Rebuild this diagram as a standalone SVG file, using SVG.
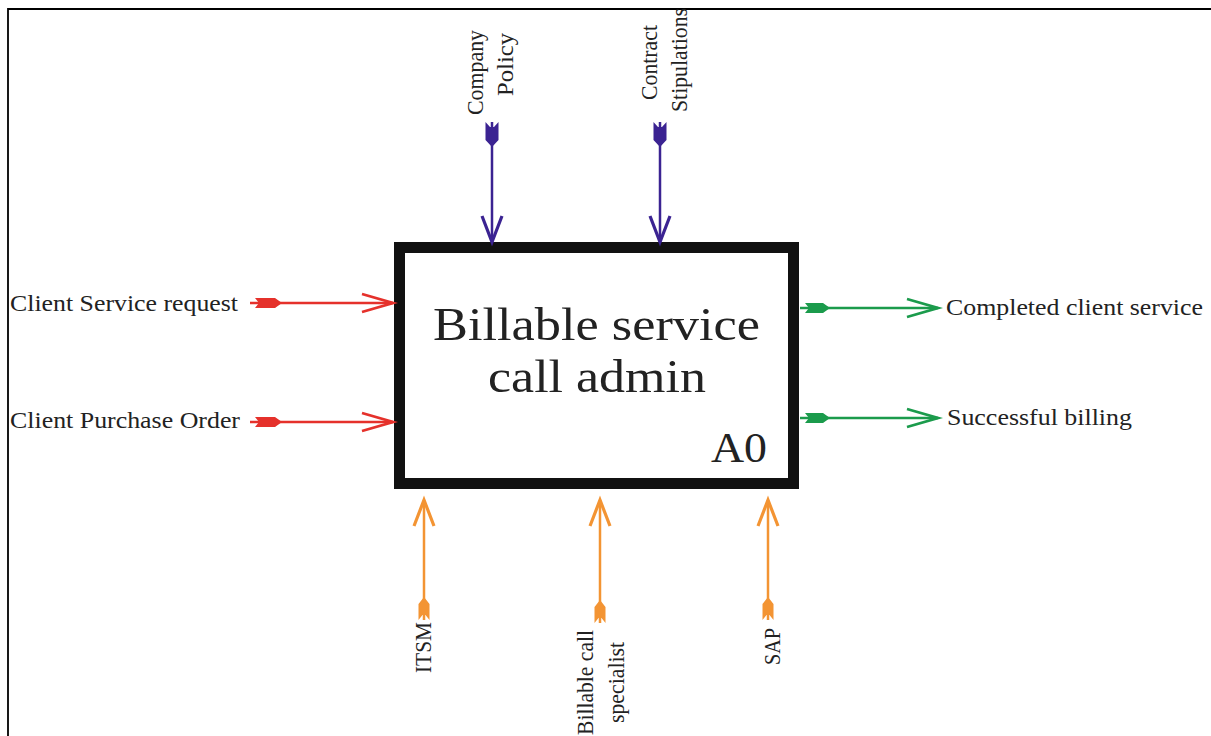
<svg xmlns="http://www.w3.org/2000/svg" width="1211" height="736" viewBox="0 0 1211 736">
<style>
  text { font-family: "Liberation Serif", serif; fill: #222; }
  .lbl { font-size: 23px; }
  .red { stroke: #e5312b; }
  .grn { stroke: #1b9b4c; }
  .pur { stroke: #3b2392; }
  .org { stroke: #f39433; }
  .conn path { fill: none; stroke-width: 2.5; }
</style>
<defs>
  <marker id="hRed" markerUnits="userSpaceOnUse" orient="auto" refX="0" refY="0" markerWidth="40" markerHeight="30" overflow="visible"><path d="M-31,-9 L0,0 L-31,9" fill="none" stroke="#e5312b" stroke-width="2.8"/></marker>
  <marker id="hGrn" markerUnits="userSpaceOnUse" orient="auto" refX="0" refY="0" markerWidth="40" markerHeight="30" overflow="visible"><path d="M-31,-9 L0,0 L-31,9" fill="none" stroke="#1b9b4c" stroke-width="2.8"/></marker>
  <marker id="hPur" markerUnits="userSpaceOnUse" orient="auto" refX="0" refY="0" markerWidth="40" markerHeight="30" overflow="visible"><path d="M-26,-10 L0,0 L-26,10" fill="none" stroke="#3b2392" stroke-width="3.2"/></marker>
  <marker id="hOrg" markerUnits="userSpaceOnUse" orient="auto" refX="0" refY="0" markerWidth="40" markerHeight="30" overflow="visible"><path d="M-26,-10 L0,0 L-26,10" fill="none" stroke="#f39433" stroke-width="3.2"/></marker>
  <marker id="tRed" markerUnits="userSpaceOnUse" orient="auto" refX="0" refY="0" markerWidth="40" markerHeight="30" overflow="visible"><path d="M5,-5 L25,-5 L32,0 L25,5 L5,5 L9,0 Z" fill="#e5312b"/></marker>
  <marker id="tGrn" markerUnits="userSpaceOnUse" orient="auto" refX="0" refY="0" markerWidth="40" markerHeight="30" overflow="visible"><path d="M5,-5 L23,-5 L30,0 L23,5 L5,5 L9,0 Z" fill="#1b9b4c"/></marker>
  <marker id="tPur" markerUnits="userSpaceOnUse" orient="auto" refX="0" refY="0" markerWidth="40" markerHeight="30" overflow="visible"><path d="M0,-6.5 L18,-6.5 L25,0 L18,6.5 L0,6.5 L5,2 L5,-2 Z" fill="#3b2392"/></marker>
  <marker id="tOrg" markerUnits="userSpaceOnUse" orient="auto" refX="0" refY="0" markerWidth="40" markerHeight="30" overflow="visible"><path d="M0,-5.5 L16,-5.5 L23,0 L16,5.5 L0,5.5 L5,1.5 L5,-1.5 Z" fill="#f39433"/></marker>
</defs>
<rect width="1211" height="736" fill="#fff"/>
<g id="frame">
  <path d="M8,736 L8,9 L1211,9" fill="none" stroke="#000" stroke-width="1.8"/>
</g>
<g id="A0">
  <rect x="399.5" y="247.5" width="394" height="236" fill="#fff" stroke="#111" stroke-width="11"/>
  <text font-family="Liberation Serif, serif" x="433" y="340" font-size="46" textLength="327" lengthAdjust="spacingAndGlyphs">Billable service</text>
  <text font-family="Liberation Serif, serif" x="488" y="392" font-size="46" textLength="218" lengthAdjust="spacingAndGlyphs">call admin</text>
  <text font-family="Liberation Serif, serif" x="711" y="462" font-size="42" textLength="56" lengthAdjust="spacingAndGlyphs">A0</text>
</g>
<g id="connectors" class="conn">
  <path class="red" d="M250,303 L393,303" marker-start="url(#tRed)" marker-end="url(#hRed)"/>
  <path class="red" d="M250,422 L393,422" marker-start="url(#tRed)" marker-end="url(#hRed)"/>
  <path class="grn" d="M800,308 L938,308" marker-start="url(#tGrn)" marker-end="url(#hGrn)"/>
  <path class="grn" d="M800,418 L938,418" marker-start="url(#tGrn)" marker-end="url(#hGrn)"/>
  <path class="pur" d="M492,122 L492,242" marker-start="url(#tPur)" marker-end="url(#hPur)"/>
  <path class="pur" d="M660,122 L660,242" marker-start="url(#tPur)" marker-end="url(#hPur)"/>
  <path class="org" d="M424,620 L424,500" marker-start="url(#tOrg)" marker-end="url(#hOrg)"/>
  <path class="org" d="M600,623 L600,500" marker-start="url(#tOrg)" marker-end="url(#hOrg)"/>
  <path class="org" d="M768,620 L768,500" marker-start="url(#tOrg)" marker-end="url(#hOrg)"/>
</g>
<g id="in1"><text class="lbl" x="10" y="311" textLength="228" lengthAdjust="spacingAndGlyphs">Client Service request</text></g>
<g id="in2"><text class="lbl" x="10" y="428" textLength="230" lengthAdjust="spacingAndGlyphs">Client Purchase Order</text></g>
<g id="out1"><text class="lbl" x="946" y="315" textLength="257" lengthAdjust="spacingAndGlyphs">Completed client service</text></g>
<g id="out2"><text class="lbl" x="947" y="425" textLength="185" lengthAdjust="spacingAndGlyphs">Successful billing</text></g>
<g id="ctrl1">
  <text class="lbl" transform="translate(483,115) rotate(-90)" textLength="85" lengthAdjust="spacingAndGlyphs">Company</text>
  <text class="lbl" transform="translate(513,96) rotate(-90)" textLength="63" lengthAdjust="spacingAndGlyphs">Policy</text>
</g>
<g id="ctrl2">
  <text class="lbl" transform="translate(657,100) rotate(-90)" textLength="75" lengthAdjust="spacingAndGlyphs">Contract</text>
  <text class="lbl" transform="translate(687,112) rotate(-90)" textLength="104" lengthAdjust="spacingAndGlyphs">Stipulations</text>
</g>
<g id="mech1"><text class="lbl" transform="translate(431,673) rotate(-90)" textLength="51" lengthAdjust="spacingAndGlyphs">ITSM</text></g>
<g id="mech2">
  <text class="lbl" transform="translate(593,735) rotate(-90)" textLength="105" lengthAdjust="spacingAndGlyphs">Billable call</text>
  <text class="lbl" transform="translate(624,723) rotate(-90)" textLength="81" lengthAdjust="spacingAndGlyphs">specialist</text>
</g>
<g id="mech3"><text class="lbl" transform="translate(780,665) rotate(-90)" textLength="37" lengthAdjust="spacingAndGlyphs">SAP</text></g>
</svg>
